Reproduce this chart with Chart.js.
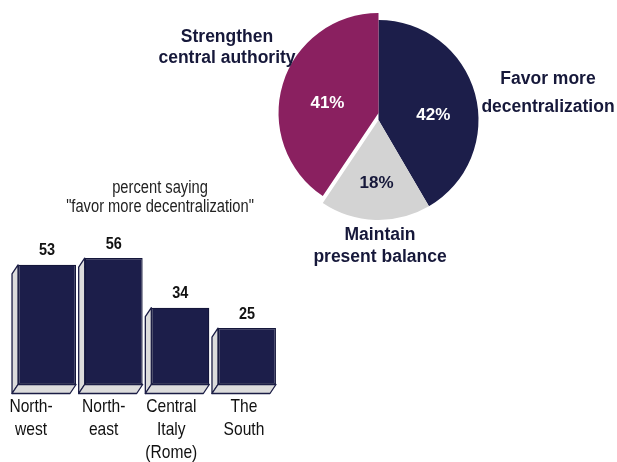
<!DOCTYPE html>
<html>
<head>
<meta charset="utf-8">
<script src="https://cdn.jsdelivr.net/npm/chart.js@4.4.1/dist/chart.umd.min.js"></script>
<style>
body{margin:0;background:#fff;}
#wrap{position:relative;width:617px;height:462px;overflow:hidden;}
canvas{position:absolute;left:0;top:0;}
</style>
</head>
<body>
<div id="wrap">
<canvas id="pie_canvas" width="617" height="462"></canvas>
<canvas id="bar_canvas" width="617" height="462"></canvas>
</div>
<script>
// pie: opinion on the balance of power
const pieLabels = [["Favor more", "decentralization"], ["Maintain", "present balance"], ["Strengthen", "central authority"]];
const pieValues = [42, 18, 41];
const pieColors = ["#1c1e4a", "#d3d3d3", "#8a2060"];

// bars: percent saying "favor more decentralization"
const regions = [["North-", "west"], ["North-", "east"], ["Central", "Italy", "(Rome)"], ["The", "South"]];
const regionValues = [53, 56, 34, 25];
const barNote = ["percent saying", "\"favor more decentralization\""];

const INK = "#16183a";
const FONT = "'Liberation Sans', Arial, sans-serif";

// no narrow face installed, so squeeze the normal one
function narrowText(ctx, t, x, y, squeeze) {
    ctx.save();
    ctx.translate(x, y);
    ctx.scale(squeeze, 1);
    ctx.fillText(t, 0, 0);
    ctx.restore();
}

// magenta slice is lifted straight up, not along its mid angle
const liftSlice = {
    id: 'liftSlice',
    afterUpdate(chart) {
        const arc = chart.getDatasetMeta(0).data[2];
        if (arc && !arc._lifted) {
            const orig = arc.draw.bind(arc);
            arc.draw = function (ctx) {
                ctx.save();
                ctx.translate(0, -7);
                orig(ctx);
                ctx.restore();
            };
            arc._lifted = true;
        }
    }
};

// outer label spots [cx, first line y, line gap]
const outerSpots = [[548, 79, 28], [380, 235, 22], [227, 37, 21]];
const pctRadius = [0.55, 0.63, 0.52];
const pctTurn = [10, 0, -6];

const pieText = {
    id: 'pieText',
    afterDatasetsDraw(chart) {
        const ctx = chart.ctx;
        const meta = chart.getDatasetMeta(0);
        ctx.save();
        ctx.textAlign = 'center';
        ctx.textBaseline = 'middle';
        ctx.font = "bold 17.5px " + FONT;
        ctx.fillStyle = INK;
        pieLabels.forEach((lines, i) => {
            const s = outerSpots[i];
            lines.forEach((t, j) => ctx.fillText(t, s[0], s[1] + j * s[2]));
        });
        meta.data.forEach((arc, i) => {
            const p = arc.getProps(['x', 'y', 'startAngle', 'endAngle', 'outerRadius'], true);
            const mid = (p.startAngle + p.endAngle) / 2 + pctTurn[i] * Math.PI / 180;
            const r = p.outerRadius * pctRadius[i];
            let x = p.x + Math.cos(mid) * r;
            let y = p.y + Math.sin(mid) * r;
            if (i === 2) y -= 7;
            ctx.font = "bold 17px " + FONT;
            ctx.fillStyle = i === 1 ? INK : "#ffffff";
            ctx.fillText(pieValues[i] + "%", x, y);
        });
        ctx.restore();
    }
};

new Chart(document.getElementById("pie_canvas"), {
    type: 'pie',
    data: {
        labels: pieLabels.map(l => l.join(" ")),
        datasets: [{
            data: pieValues,
            backgroundColor: pieColors,
            borderWidth: 0,
            radius: 100
        }]
    },
    options: {
        responsive: false,
        animation: false,
        layout: {padding: {left: 279, right: 139, top: 20, bottom: 242}},
        plugins: {legend: {display: false}, tooltip: {enabled: false}}
    },
    plugins: [liftSlice, pieText]
});

// labels under the boxes sit a bit left of each box, unevenly
const labelShift = [-16, -10, -9, -3];

// light grey side and floor of every box, plus the labels
const boxSides = {
    id: 'boxSides',
    afterDatasetsDraw(chart) {
        const ctx = chart.ctx;
        const meta = chart.getDatasetMeta(0);
        const dx = -6, dy = 9;
        ctx.save();
        ctx.lineJoin = 'round';
        meta.data.forEach((bar, i) => {
            const p = bar.getProps(['x', 'y', 'base', 'width'], true);
            const l = p.x - p.width / 2, r = p.x + p.width / 2;
            ctx.fillStyle = '#dcdcdc';
            ctx.strokeStyle = '#1b1d45';
            ctx.lineWidth = 1.3;
            ctx.beginPath();
            ctx.moveTo(l, p.y); ctx.lineTo(l + dx, p.y + dy);
            ctx.lineTo(l + dx, p.base + dy); ctx.lineTo(l, p.base);
            ctx.closePath(); ctx.fill(); ctx.stroke();
            ctx.beginPath();
            ctx.moveTo(l, p.base); ctx.lineTo(r, p.base);
            ctx.lineTo(r + dx, p.base + dy); ctx.lineTo(l + dx, p.base + dy);
            ctx.closePath(); ctx.fill(); ctx.stroke();

            ctx.textAlign = 'center';
            ctx.textBaseline = 'middle';
            ctx.fillStyle = '#111';
            ctx.font = "bold 17px " + FONT;
            narrowText(ctx, String(regionValues[i]), p.x, p.y - 14, 0.85);
            ctx.font = "19px " + FONT;
            regions[i].forEach((t, j) => narrowText(ctx, t, p.x + labelShift[i], 407 + j * 23, 0.82));
        });
        ctx.fillStyle = '#222';
        ctx.font = "17.5px " + FONT;
        ctx.textAlign = 'center';
        ctx.textBaseline = 'alphabetic';
        barNote.forEach((t, j) => narrowText(ctx, t, 160, 193 + j * 19, 0.84));
        ctx.restore();
    }
};

new Chart(document.getElementById("bar_canvas"), {
    type: 'bar',
    data: {
        labels: regions.map(r => r.join(" ")),
        datasets: [{
            data: regionValues,
            backgroundColor: "#1c1e4a",
            borderColor: "#14163a",
            borderWidth: 1.3,
            borderSkipped: false,
            categoryPercentage: 1,
            barPercentage: 0.87
        }]
    },
    options: {
        responsive: false,
        animation: false,
        layout: {padding: {left: 13.7, right: 336.7, top: 249, bottom: 77.5}},
        scales: {
            x: {display: false},
            y: {display: false, min: 0, max: 60}
        },
        plugins: {legend: {display: false}, tooltip: {enabled: false}}
    },
    plugins: [boxSides]
});
</script>
</body>
</html>
